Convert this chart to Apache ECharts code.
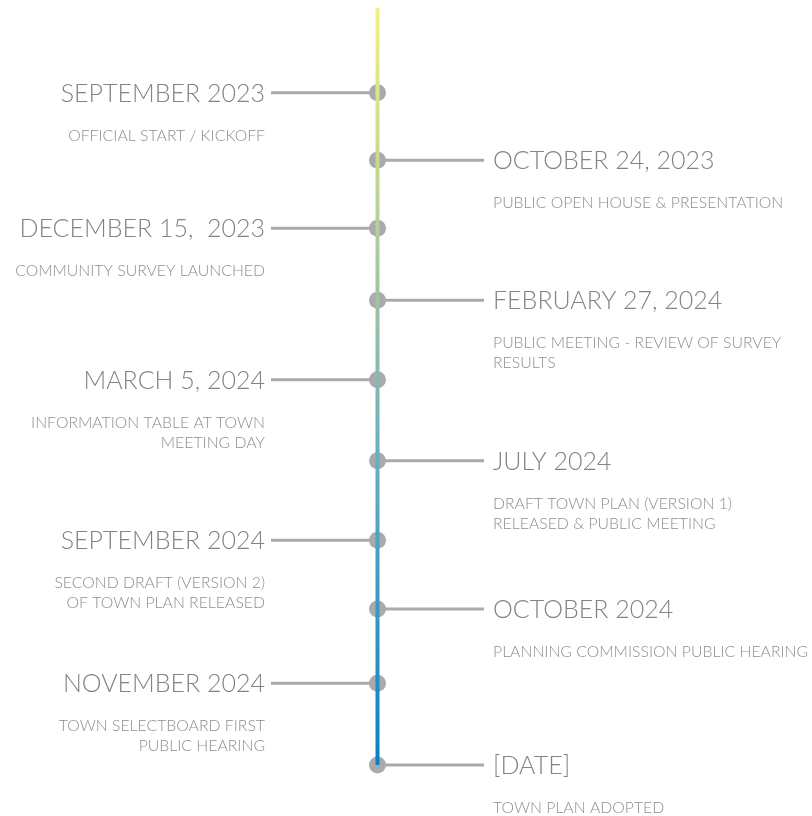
<!DOCTYPE html>
<html>
<head>
<meta charset="utf-8">
<title>Town Plan Timeline</title>
<script src="https://cdn.jsdelivr.net/npm/echarts@6/dist/echarts.min.js"></script>
<style>
  html, body { margin: 0; padding: 0; background: #fff; }
  #main { width: 812px; height: 816px; }
</style>
</head>
<body>
<div id="main"></div>
<script>
// timeline milestones (top to bottom)
var titles = [
    'SEPTEMBER 2023',
    'OCTOBER 24, 2023',
    'DECEMBER 15,  2023',
    'FEBRUARY 27, 2024',
    'MARCH 5, 2024',
    'JULY 2024',
    'SEPTEMBER 2024',
    'OCTOBER 2024',
    'NOVEMBER 2024',
    '[DATE]'
];
var subtitles = [
    'OFFICIAL START / KICKOFF',
    'PUBLIC OPEN HOUSE & PRESENTATION',
    'COMMUNITY SURVEY LAUNCHED',
    'PUBLIC MEETING - REVIEW OF SURVEY\nRESULTS',
    'INFORMATION TABLE AT TOWN\nMEETING DAY',
    'DRAFT TOWN PLAN (VERSION 1)\nRELEASED & PUBLIC MEETING',
    'SECOND DRAFT (VERSION 2)\nOF TOWN PLAN RELEASED',
    'PLANNING COMMISSION PUBLIC HEARING',
    'TOWN SELECTBOARD FIRST\nPUBLIC HEARING',
    'TOWN PLAN ADOPTED'
];
// which side the label sits on: -1 left, 1 right
var sides = [-1, 1, -1, 1, -1, 1, -1, 1, -1, 1];
// position along the timeline, in % of its length
var positions = [11.2, 20.1, 29.1, 38.6, 49.1, 59.8, 70.3, 79.4, 89.2, 100];

var chart = echarts.init(document.getElementById('main'));

var grey = '#a9aaae';

var points = positions.map(function (p, i) {
    return [sides[i], p, i];
});

function renderItem(params, api) {
    var side = api.value(0);
    var idx = api.value(2);
    var center = api.coord([0, api.value(1)]);
    var end = api.coord([side, api.value(1)]);
    var tx = side < 0 ? end[0] - 6 : end[0] + 9;
    var align = side < 0 ? 'right' : 'left';
    return {
        type: 'group',
        children: [
            {
                type: 'line',
                shape: { x1: center[0], y1: center[1], x2: end[0], y2: end[1] },
                style: { stroke: grey, lineWidth: 3 }
            },
            {
                type: 'circle',
                shape: { cx: center[0], cy: center[1], r: 8.5 },
                style: { fill: grey }
            },
            {
                type: 'text',
                x: tx,
                y: center[1] + 1,
                style: {
                    text: titles[idx],
                    align: align,
                    verticalAlign: 'middle',
                    fill: '#838387',
                    font: '300 25px Lato, sans-serif'
                }
            },
            {
                type: 'text',
                x: tx,
                y: center[1] + 33,
                style: {
                    text: subtitles[idx],
                    align: align,
                    verticalAlign: 'top',
                    fill: '#8e8e92',
                    font: '300 15.8px Lato, sans-serif',
                    lineHeight: 20
                }
            }
        ]
    };
}

var option = {
    animation: false,
    grid: { left: 271, right: 328, top: 8, bottom: 51 },
    xAxis: { type: 'value', min: -1, max: 1, show: false },
    yAxis: { type: 'value', min: 0, max: 100, inverse: true, show: false },
    series: [
        {
            type: 'line',
            data: [[0, 0], [0, 100]],
            showSymbol: false,
            lineStyle: {
                width: 4,
                color: new echarts.graphic.LinearGradient(0, 0, 0, 1, [
                    { offset: 0, color: '#f4f17f' },
                    { offset: 0.4, color: '#9cc2a4' },
                    { offset: 0.65, color: '#5aa8c2' },
                    { offset: 1, color: '#0a7fc4' }
                ])
            },
            silent: true
        },
        {
            type: 'custom',
            renderItem: renderItem,
            data: points,
            clip: false,
            silent: true
        }
    ]
};

chart.setOption(option);
</script>
</body>
</html>
